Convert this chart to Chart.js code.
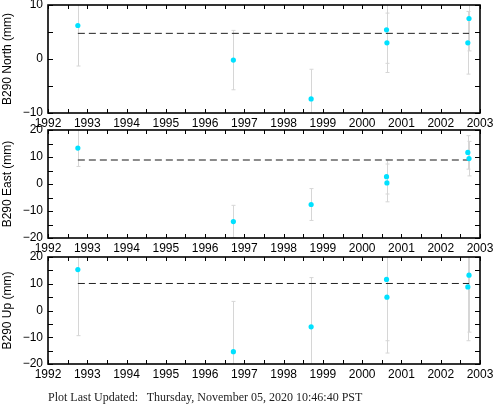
<!DOCTYPE html>
<html>
<head>
<meta charset="utf-8">
<script src="https://cdn.jsdelivr.net/npm/chart.js@4.4.0/dist/chart.umd.min.js"></script>
<style>
  html, body { margin: 0; padding: 0; background: #fff; }
  #wrap { position: relative; width: 493px; height: 404px; overflow: hidden; }
  #wrap canvas { position: absolute; left: 0; }
  #footer { position: absolute; left: 48px; top: 390px; font: 12px "Liberation Serif", "Times New Roman", serif; white-space: pre; color: #222; line-height: 14px; }
</style>
</head>
<body>
<div id="wrap">
  <canvas id="chartNorth" width="493" height="135" style="top:0px"></canvas>
  <canvas id="chartEast" width="493" height="140" style="top:120px"></canvas>
  <canvas id="chartUp" width="493" height="141" style="top:245px"></canvas>
  <div id="footer">Plot Last Updated:   Thursday, November 05, 2020 10:46:40 PST</div>
</div>
<script>
// Epocas de medicion (anio decimal)
const years = [1992.76, 1996.72, 1998.70, 2000.62, 2000.63, 2002.69, 2002.72];

// Componentes (mm) y sus errores
const north    = [6.2, -0.2, -7.4, 5.4, 3.0, 3.0, 7.5];
const northErr = [7.5, 5.5, 5.5, 6.2, 5.5, 5.8, 6.0];
const east     = [13.3, -13.9, -7.6, 2.7, 0.4, 11.7, 9.4];
const eastErr  = [6.8, 6.0, 5.9, 6.4, 7.0, 6.2, 6.4];
const up       = [15.3, -15.4, -6.1, 11.6, 5.0, 8.8, 13.2];
const upErr    = [24.7, 18.8, 18.4, 22.9, 20.9, 20.1, 21.3];

// Linea media (discontinua) de cada panel
const means = [4.75, 8.9, 10.1];

// Ejes
const yearMin = 1992, yearMax = 2003;
const yRanges = [[-10, 10], [-20, 20], [-20, 20]];
const axisTitles = ['B290 North (mm)', 'B290 East (mm)', 'B290 Up (mm)'];

const FONT = "'Liberation Sans', Arial, Helvetica, sans-serif";
Chart.defaults.font.family = FONT;
Chart.defaults.color = '#000';

// barras de error + marco + ticks hacia adentro
function errorBars(vals, errs) {
  return {
    id: 'errorBars',
    beforeDatasetsDraw(chart) {
      const { ctx, chartArea: a, scales: { x, y } } = chart;
      ctx.save();
      ctx.beginPath();
      ctx.rect(a.left, a.top, a.right - a.left, a.bottom - a.top);
      ctx.clip();
      ctx.strokeStyle = '#d6d6d6';
      ctx.lineWidth = 1;
      years.forEach((t, i) => {
        const px = Math.round(x.getPixelForValue(t)) + 0.5;
        const top = y.getPixelForValue(vals[i] + errs[i]);
        const bot = y.getPixelForValue(vals[i] - errs[i]);
        ctx.beginPath();
        ctx.moveTo(px, top); ctx.lineTo(px, bot);
        ctx.moveTo(px - 2, top); ctx.lineTo(px + 2, top);
        ctx.moveTo(px - 2, bot); ctx.lineTo(px + 2, bot);
        ctx.stroke();
      });
      ctx.restore();
    },
    afterDraw(chart) {
      const { ctx, chartArea: a, scales: { x, y } } = chart;
      ctx.save();
      ctx.strokeStyle = '#000';
      ctx.lineWidth = 1;
      ctx.beginPath();
      x.ticks.forEach(tk => {
        const px = Math.round(x.getPixelForValue(tk.value)) + 0.5;
        ctx.moveTo(px, a.bottom); ctx.lineTo(px, a.bottom - 4);
        ctx.moveTo(px, a.top); ctx.lineTo(px, a.top + 4);
      });
      y.ticks.forEach(tk => {
        const py = Math.round(y.getPixelForValue(tk.value)) + 0.5;
        ctx.moveTo(a.left, py); ctx.lineTo(a.left + 5, py);
        ctx.moveTo(a.right, py); ctx.lineTo(a.right - 5, py);
      });
      ctx.stroke();
      ctx.lineWidth = 1.6;
      ctx.strokeRect(a.left, a.top, a.right - a.left, a.bottom - a.top);
      ctx.restore();
    }
  };
}

function renderPanel(id, idx, vals, errs, padTop) {
  const ctx = document.getElementById(id).getContext('2d');
  const [ymin, ymax] = yRanges[idx];
  new Chart(ctx, {
    data: {
      datasets: [{
        type: 'scatter',
        data: years.map((t, i) => ({ x: t, y: vals[i] })),
        backgroundColor: 'rgb(0,225,255)',
        borderWidth: 0,
        pointRadius: 2.6,
        order: 0
      }, {
        type: 'line',
        data: [{ x: years[0], y: means[idx] }, { x: years[years.length - 1], y: means[idx] }],
        borderColor: idx === 1 ? '#666' : '#222',
        borderWidth: idx === 1 ? 1.4 : 1,
        borderDash: [7, 4],
        pointRadius: 0,
        fill: false,
        order: 1
      }]
    },
    options: {
      responsive: false,
      animation: false,
      events: [],
      layout: { padding: { left: 0, right: 13, top: padTop, bottom: 0 } },
      plugins: { legend: { display: false }, tooltip: { enabled: false } },
      scales: {
        x: {
          type: 'linear',
          min: yearMin, max: yearMax,
          grid: { display: false, drawTicks: false },
          border: { display: false },
          ticks: {
            stepSize: 0.5,
            padding: 3,
            font: { size: 12 },
            autoSkip: false,
            maxRotation: 0,
            callback: v => Number.isInteger(v) ? String(v) : ''
          },
          afterFit: s => { s.height = 22; s.paddingLeft = 0; s.paddingRight = 0; }
        },
        y: {
          min: ymin, max: ymax,
          grid: { display: false, drawTicks: false },
          border: { display: false },
          title: { display: true, text: axisTitles[idx], font: { size: 12 }, padding: { top: 0, bottom: 0 } },
          ticks: {
            stepSize: 5,
            padding: 5,
            font: { size: 12 },
            autoSkip: false,
            callback: v => v % 10 === 0 ? String(v).replace('-', '\u2212') : ''
          },
          afterFit: s => { s.width = 48; s.paddingTop = 0; s.paddingBottom = 0; }
        }
      }
    },
    plugins: [errorBars(vals, errs)]
  });
}

renderPanel('chartNorth', 0, north, northErr, 5);
renderPanel('chartEast', 1, east, eastErr, 10);
renderPanel('chartUp', 2, up, upErr, 12);
</script>
</body>
</html>
